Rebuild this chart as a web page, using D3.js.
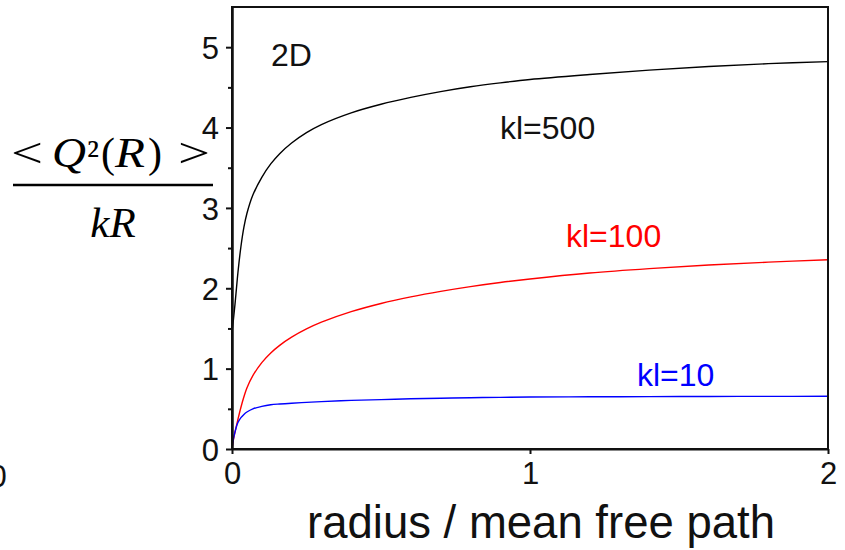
<!DOCTYPE html>
<html><head><meta charset="utf-8">
<script src="https://cdn.jsdelivr.net/npm/d3@7"></script>
<style>body{margin:0;background:#fff;}svg{display:block;}</style>
</head><body>
<svg id="c" width="845" height="550"></svg>
<script>
// ---- data ----
const radius = [0, 0.002, 0.005, 0.01, 0.015, 0.02, 0.03, 0.04, 0.05, 0.07, 0.1, 0.13, 0.16, 0.2, 0.25, 0.3, 0.4, 0.5, 0.6, 0.7, 0.8, 0.9, 1.0, 1.2, 1.4, 1.6, 1.8, 2.0];
const kl500 = [1.45, 1.52, 1.62, 1.8, 2.0, 2.2, 2.52, 2.76, 2.93, 3.16, 3.38, 3.547, 3.675, 3.808, 3.937, 4.037, 4.183, 4.29, 4.375, 4.447, 4.507, 4.556, 4.598, 4.66, 4.715, 4.76, 4.795, 4.82];
const kl100 = [0, 0.05, 0.12, 0.21, 0.29, 0.37, 0.52, 0.65, 0.76, 0.913, 1.075, 1.195, 1.29, 1.392, 1.494, 1.578, 1.709, 1.811, 1.893, 1.962, 2.021, 2.072, 2.116, 2.19, 2.245, 2.29, 2.325, 2.355];
const kl10  = [0, 0.06, 0.13, 0.21, 0.28, 0.33, 0.39, 0.43, 0.46, 0.50, 0.53, 0.55, 0.56, 0.57, 0.58, 0.59, 0.605, 0.615, 0.625, 0.632, 0.638, 0.643, 0.647, 0.65, 0.652, 0.654, 0.655, 0.656];
const seriesNames = ["kl=500", "kl=100", "kl=10"];
const xTicks = [0, 1, 2];
const yTicks = [0, 1, 2, 3, 4, 5];
const yMinorTicks = [0.5, 1.5, 2.5, 3.5, 4.5];

const svg = d3.select("#c");
const L = 232, R = 828, T = 7, B = 449;
const x = d3.scaleLinear().domain([0, 2]).range([L, R]);
const y = d3.scaleLinear().domain([0, 5.5]).range([B, T]);

const series = [
  {name: seriesNames[0], vals: kl500, color: "#000000", lx: 500, ly: 139},
  {name: seriesNames[1], vals: kl100, color: "#ff0000", lx: 566, ly: 247},
  {name: seriesNames[2], vals: kl10,  color: "#0000ff", lx: 637, ly: 386}
];

const line = d3.line().x(d => x(d[0])).y(d => y(d[1])).curve(d3.curveCatmullRom.alpha(0.5));
series.forEach(s => {
  svg.append("path")
    .datum(radius.map((r, i) => [r, s.vals[i]]))
    .attr("fill", "none").attr("stroke", s.color).attr("stroke-width", 1.4)
    .attr("d", line);
});

// frame
svg.append("rect").attr("x", L).attr("y", T).attr("width", R - L).attr("height", B - T)
  .attr("fill", "none").attr("stroke", "#111").attr("stroke-width", 2);

const tickFont = "Liberation Sans, Arial, sans-serif";
// y axis
const ya = svg.append("g").attr("transform", `translate(${L},0)`)
  .call(d3.axisLeft(y).tickValues(yTicks).tickSize(6).tickSizeOuter(0).tickPadding(7).tickFormat(d3.format("d")));
const ym = svg.append("g").attr("transform", `translate(${L},0)`)
  .call(d3.axisLeft(y).tickValues(yMinorTicks).tickSize(4).tickSizeOuter(0).tickFormat(""));
// x axis
const xa = svg.append("g").attr("transform", `translate(0,${B})`)
  .call(d3.axisBottom(x).tickValues(xTicks).tickSize(5).tickSizeOuter(0).tickPadding(8).tickFormat(d3.format("d")));
[ya, ym, xa].forEach(g => {
  g.select(".domain").attr("stroke", "#111").attr("stroke-width", 2);
  g.selectAll(".tick line").attr("stroke", "#111").attr("stroke-width", 2);
  g.selectAll(".tick text").attr("font-family", tickFont).attr("font-size", 31).attr("fill", "#111");
});
ya.selectAll(".tick text").attr("dy", "0.36em");

// labels
svg.append("text").attr("x", 271).attr("y", 66).text("2D")
  .attr("font-family", tickFont).attr("font-size", 32).attr("fill", "#111");
series.forEach(s => {
  svg.append("text").attr("x", s.lx).attr("y", s.ly).text(s.name)
    .attr("font-family", tickFont).attr("font-size", 32).attr("fill", s.color === "#000000" ? "#111" : s.color);
});

// x title
svg.append("text").attr("x", 541).attr("y", 538).attr("text-anchor", "middle")
  .text("radius / mean free path")
  .attr("font-family", tickFont).attr("font-size", 45.5).attr("fill", "#111");

// stray cut-off tick label at the left edge
svg.append("text").attr("x", -2).attr("y", 487).attr("text-anchor", "middle").text("0")
  .attr("font-family", tickFont).attr("font-size", 31).attr("fill", "#111");

// y label as a fraction
const serif = "Liberation Serif, Times New Roman, serif";
const glyphs = [
  {t: "<", x: 11, w: 32, it: false, fs: 42},
  {t: "Q", x: 52, w: 34, it: true, fs: 42},
  {t: "²", x: 87, w: 0, it: false, fs: 40},
  {t: "(", x: 101, w: 0, it: false, fs: 42},
  {t: "R", x: 115, w: 30, it: true, fs: 42},
  {t: ")", x: 148, w: 0, it: false, fs: 42},
  {t: ">", x: 178, w: 32, it: false, fs: 42}
];
glyphs.forEach(g => {
  const t = svg.append("text").attr("x", g.x).attr("y", 167)
    .attr("font-family", serif).attr("font-size", g.fs)
    .attr("font-style", g.it ? "italic" : "normal").attr("fill", "#000").text(g.t);
  if (g.w) t.attr("textLength", g.w).attr("lengthAdjust", "spacingAndGlyphs");
});
svg.append("line").attr("x1", 13).attr("x2", 213).attr("y1", 185).attr("y2", 185)
  .attr("stroke", "#000").attr("stroke-width", 2.5);
svg.append("text").attr("x", 113).attr("y", 237).attr("text-anchor", "middle")
  .attr("font-family", serif).attr("font-size", 43).attr("font-style", "italic").text("kR");
</script>
</body></html>
